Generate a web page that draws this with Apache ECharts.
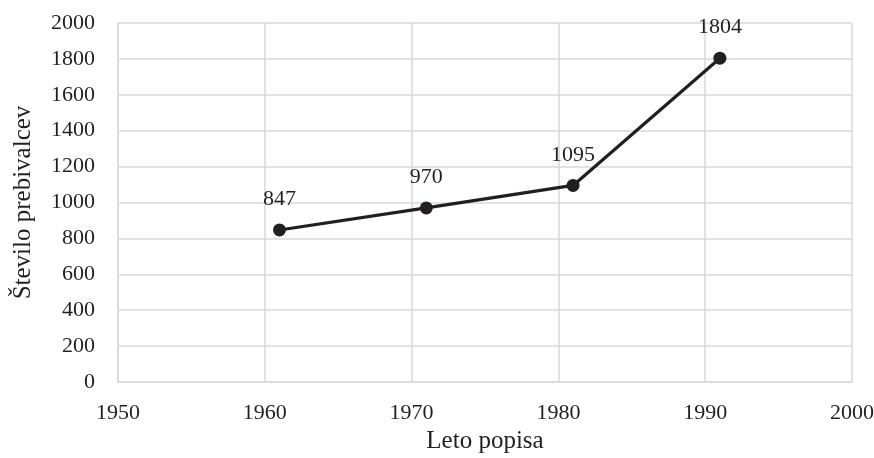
<!DOCTYPE html>
<html>
<head>
<meta charset="utf-8">
<script src="https://cdn.jsdelivr.net/npm/echarts@6/dist/echarts.min.js"></script>
<style>
  html, body { margin: 0; padding: 0; background: #fff; }
  #chart { width: 874px; height: 458px; }
</style>
</head>
<body>
<div id="chart"></div>
<script>
// leta popisa in stevilo prebivalcev
var years = [1961, 1971, 1981, 1991];
var population = [847, 970, 1095, 1804];

var fontFam = 'Liberation Serif';
var txtColor = '#231f20';
var gridColor = '#d9d9d9';

var chart = echarts.init(document.getElementById('chart'));
chart.setOption({
    animation: false,
    grid: { left: 118, right: 22, top: 23, bottom: 76, outerBoundsMode: 'none' },
    xAxis: {
        type: 'value',
        min: 1950, max: 2000, interval: 10,
        name: 'Leto popisa',
        nameLocation: 'middle',
        nameGap: 46,
        nameTextStyle: { fontFamily: fontFam, fontSize: 25, color: txtColor },
        axisLine: { show: true, lineStyle: { color: gridColor, width: 1.5 } },
        axisTick: { show: false },
        axisLabel: { margin: 20, fontFamily: fontFam, fontSize: 22, color: txtColor,
            formatter: function (v) { return String(v); } },
        splitLine: { show: true, lineStyle: { color: gridColor, width: 1.5 } }
    },
    yAxis: {
        type: 'value',
        min: 0, max: 2000, interval: 200,
        name: 'Število prebivalcev',
        nameLocation: 'middle',
        nameGap: 82,
        nameTextStyle: { fontFamily: fontFam, fontSize: 25, color: txtColor },
        axisLine: { show: true, lineStyle: { color: gridColor, width: 1.5 } },
        axisTick: { show: false },
        axisLabel: { margin: 23, fontFamily: fontFam, fontSize: 22, color: txtColor,
            formatter: function (v) { return String(v); } },
        splitLine: { show: true, lineStyle: { color: gridColor, width: 1.5 } }
    },
    series: [{
        type: 'line',
        data: years.map(function (y, i) { return [y, population[i]]; }),
        symbol: 'circle',
        symbolSize: 13,
        itemStyle: { color: txtColor },
        lineStyle: { color: txtColor, width: 3.2 },
        label: {
            show: true,
            position: 'top',
            distance: 13,
            formatter: function (p) { return String(p.value[1]); },
            fontFamily: fontFam, fontSize: 22, color: txtColor
        }
    }]
});
</script>
</body>
</html>
